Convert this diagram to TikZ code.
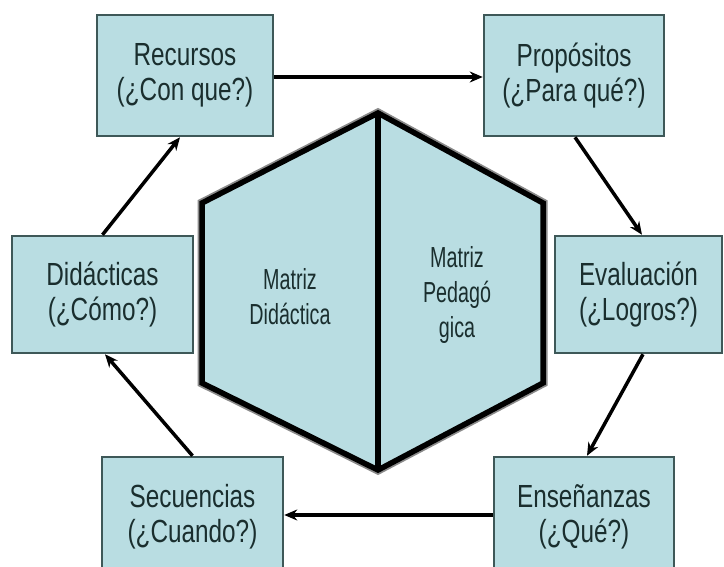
\documentclass[tikz,border=0pt]{standalone}
\usepackage{fontspec}
\setmainfont[FakeStretch=0.76]{Liberation Sans}
\newfontfamily\hexfont[FakeStretch=0.68]{Liberation Sans}
\usetikzlibrary{arrows.meta,calc}
\definecolor{boxfill}{HTML}{B9DDE2}
\definecolor{boxline}{HTML}{3E5858}
\definecolor{txt}{HTML}{1A2E2E}
\definecolor{hexgray}{HTML}{8A8A8A}
\begin{document}
\begin{tikzpicture}[x=1pt,y=-1pt,
  box/.style={draw=boxline, line width=2.5pt, fill=boxfill, text=txt, align=center,
    font=\fontsize{32}{35}\selectfont, inner sep=0pt},
  conn/.style={line width=3.5pt, -{Stealth[length=13pt,width=11pt]}},
  hextext/.style={text=txt, align=center, font=\hexfont\fontsize{29}{35}\selectfont}]
\useasboundingbox (0,0) rectangle (724,566);
\clip (0,0) rectangle (724,566);
\fill[white] (0,0) rectangle (724,566);

\node[box, minimum width=176pt, minimum height=121pt] (rec) at (185,75.5) {Recursos\\(¿Con que?)};
\node[box, minimum width=180pt, minimum height=121pt] (prop) at (574,75.5) {Propósitos\\(¿Para qué?)};
\node[box, minimum width=181pt, minimum height=117pt] (did) at (102.5,294.5) {Didácticas\\(¿Cómo?)};
\node[box, minimum width=167pt, minimum height=117pt] (eval) at (638.5,294.5) {Evaluación\\(¿Logros?)};
\node[box, minimum width=181pt, minimum height=120pt] (sec) at (192.5,517) {Secuencias\\(¿Cuando?)};
\node[box, minimum width=180pt, minimum height=120pt] (ens) at (584,517) {Enseñanzas\\(¿Qué?)};

\coordinate (ht) at (378,113);
\coordinate (hb) at (378,470);
\coordinate (hlu) at (202,203);
\coordinate (hll) at (202,383);
\coordinate (hru) at (543,203);
\coordinate (hrl) at (543,383);
\draw[hexgray, line width=9pt, line join=miter] (ht) -- (hru) -- (hrl) -- (hb) -- (hll) -- (hlu) -- cycle;
\fill[boxfill] (ht) -- (hru) -- (hrl) -- (hb) -- (hll) -- (hlu) -- cycle;
\draw[black, line width=5.5pt, line join=miter] (ht) -- (hru) -- (hrl) -- (hb) -- (hll) -- (hlu) -- cycle;
\draw[black, line width=5.5pt] (ht) -- (hb);
\node[hextext] (ml) at (290,297) {Matriz\\Didáctica};
\node[hextext] (mp) at (457,295) {Matriz\\Pedagó\\gica};

\draw[conn] ($(rec.east)+(0,1.5)$) -- ($(prop.west)+(0,1.5)$);
\draw[conn] ($(prop.south)+(1,0)$) -- ($(eval.north)+(3.5,0)$);
\draw[conn] ($(eval.south)+(4.5,0)$) -- ($(ens.north)+(3,0)$);
\draw[conn] ($(ens.west)+(0,-2)$) -- ($(sec.east)+(0,-2)$);
\draw[conn] (sec.north) -- ($(did.south)+(2.5,0)$);
\draw[conn] (did.north) -- ($(rec.south)+(-5,0)$);
\end{tikzpicture}
\end{document}
